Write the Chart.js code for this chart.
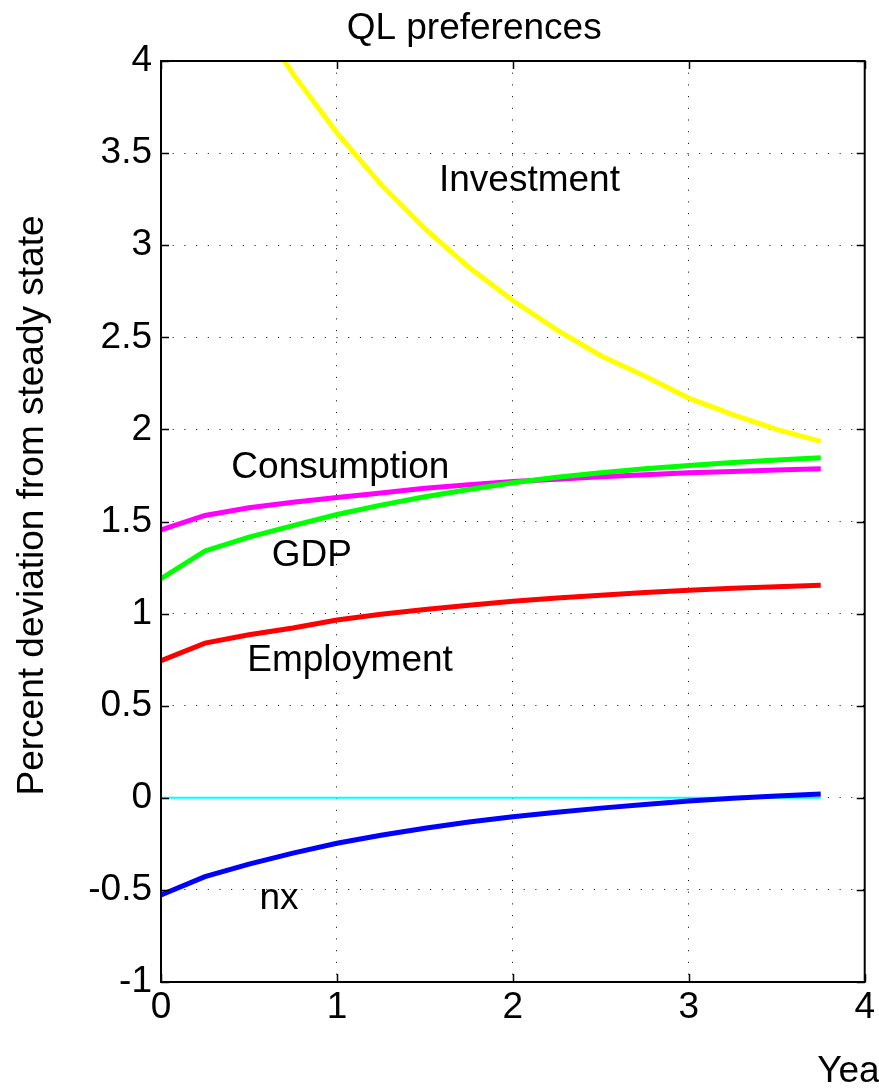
<!DOCTYPE html>
<html>
<head>
<meta charset="utf-8">
<script src="https://cdn.jsdelivr.net/npm/chart.js@4/dist/chart.umd.min.js"></script>
<style>
  body { margin: 0; background: #fff; }
  canvas { display: block; }
</style>
</head>
<body>
<canvas id="irfChart" width="879" height="1088"></canvas>
<script>
document.addEventListener("DOMContentLoaded", () => {
    // Quarterly horizon, in years
    const years = [0, 0.25, 0.5, 0.75, 1, 1.25, 1.5, 1.75, 2, 2.25, 2.5, 2.75, 3, 3.25, 3.5, 3.75];

    // Percent deviation from steady state
    const investment  = [5.20, 4.72, 4.30, 3.93, 3.61, 3.33, 3.09, 2.88, 2.70, 2.54, 2.40, 2.29, 2.17, 2.08, 2.00, 1.935];
    const consumption = [1.455, 1.533, 1.575, 1.605, 1.63, 1.655, 1.68, 1.70, 1.717, 1.73, 1.743, 1.754, 1.764, 1.772, 1.779, 1.786];
    const gdp         = [1.19, 1.34, 1.415, 1.478, 1.538, 1.589, 1.634, 1.674, 1.71, 1.74, 1.765, 1.786, 1.804, 1.82, 1.834, 1.846];
    const employment  = [0.745, 0.84, 0.885, 0.922, 0.965, 0.997, 1.022, 1.045, 1.067, 1.085, 1.10, 1.114, 1.127, 1.137, 1.146, 1.154];
    const nx          = [-0.527, -0.428, -0.36, -0.30, -0.247, -0.203, -0.165, -0.131, -0.103, -0.078, -0.056, -0.036, -0.018, -0.003, 0.01, 0.021];
    const zeroLine    = years.map(() => 0);

    const xTicks = [0, 1, 2, 3, 4];
    const yTicks = [-1, -0.5, 0, 0.5, 1, 1.5, 2, 2.5, 3, 3.5, 4];

    // Series names written next to the curves [text, x, y]
    const curveLabels = [
        ["Investment", 1.58, 3.35],
        ["Consumption", 0.40, 1.79],
        ["GDP", 0.63, 1.315],
        ["Employment", 0.49, 0.745],
        ["nx", 0.56, -0.55]
    ];

    const FONT = '"Liberation Sans", Arial, Helvetica, sans-serif';

    function toPoints(values) {
        return years.map((x, i) => ({ x: x, y: values[i] }));
    }

    function series(values, color, width) {
        return {
            data: toPoints(values),
            borderColor: color,
            borderWidth: width,
            pointRadius: 0,
            tension: 0,
            fill: false
        };
    }

    // Box, inward tick marks and free text
    const decorations = {
        id: "decorations",
        afterDraw(chart) {
            const ctx = chart.ctx;
            const xs = chart.scales.x;
            const ys = chart.scales.y;
            const a = chart.chartArea;
            const tick = 8;

            ctx.save();
            ctx.strokeStyle = "#000";
            ctx.lineWidth = 2;
            ctx.strokeRect(a.left, a.top, a.right - a.left, a.bottom - a.top);

            ctx.lineWidth = 1.5;
            ctx.beginPath();
            xTicks.forEach(v => {
                const px = Math.round(xs.getPixelForValue(v)) + 0.5;
                ctx.moveTo(px, a.bottom); ctx.lineTo(px, a.bottom - tick);
                ctx.moveTo(px, a.top); ctx.lineTo(px, a.top + tick);
            });
            yTicks.forEach(v => {
                const py = Math.round(ys.getPixelForValue(v)) + 0.5;
                ctx.moveTo(a.left, py); ctx.lineTo(a.left + tick, py);
                ctx.moveTo(a.right, py); ctx.lineTo(a.right - tick, py);
            });
            ctx.stroke();

            ctx.fillStyle = "#000";
            ctx.font = "37px " + FONT;
            ctx.textBaseline = "middle";
            ctx.textAlign = "left";
            curveLabels.forEach(([text, x, y]) => {
                ctx.fillText(text, xs.getPixelForValue(x), ys.getPixelForValue(y));
            });

            // axis caption, runs off the right edge
            ctx.fillText("Year", xs.getPixelForValue(3.73), ys.getPixelForValue(-1.485));

            ctx.textAlign = "center";
            ctx.fillText("QL preferences", xs.getPixelForValue(1.78), a.top - 32);

            ctx.translate(33, (a.top + a.bottom) / 2 - 16);
            ctx.rotate(-Math.PI / 2);
            ctx.fillText("Percent deviation from steady state", 0, 0);
            ctx.restore();
        }
    };

    const ctx = document.getElementById("irfChart").getContext("2d");

    new Chart(ctx, {
        type: "line",
        data: {
            datasets: [
                series(nx, "#0000ff", 5),
                series(gdp, "#00ff00", 5),
                series(consumption, "#ff00ff", 5),
                series(employment, "#ff0000", 5),
                series(investment, "#ffff00", 5),
                series(zeroLine, "#00ffff", 2)
            ]
        },
        options: {
            responsive: false,
            animation: false,
            layout: { padding: { top: 61, right: 12, left: 0, bottom: 0 } },
            plugins: {
                legend: { display: false },
                tooltip: { enabled: false }
            },
            scales: {
                x: {
                    type: "linear",
                    min: 0,
                    max: 4,
                    afterBuildTicks: s => { s.ticks = xTicks.map(v => ({ value: v })); },
                    afterFit: s => { s.height = 106; },
                    grid: { color: "#000", lineWidth: 1, drawTicks: false },
                    border: { display: false, dash: [1, 10.7] },
                    ticks: {
                        color: "#000", font: { family: FONT, size: 37 }, padding: 4, maxRotation: 0,
                        callback: v => String(v)
                    }
                },
                y: {
                    type: "linear",
                    min: -1,
                    max: 4,
                    afterBuildTicks: s => { s.ticks = yTicks.map(v => ({ value: v })); },
                    afterFit: s => { s.width = 161; },
                    grid: { color: "#000", lineWidth: 1, drawTicks: false },
                    border: { display: false, dash: [1, 10.7] },
                    ticks: {
                        color: "#000", font: { family: FONT, size: 37 }, padding: 9,
                        callback: v => String(v)
                    }
                }
            }
        },
        plugins: [decorations]
    });
});
</script>
</body>
</html>
